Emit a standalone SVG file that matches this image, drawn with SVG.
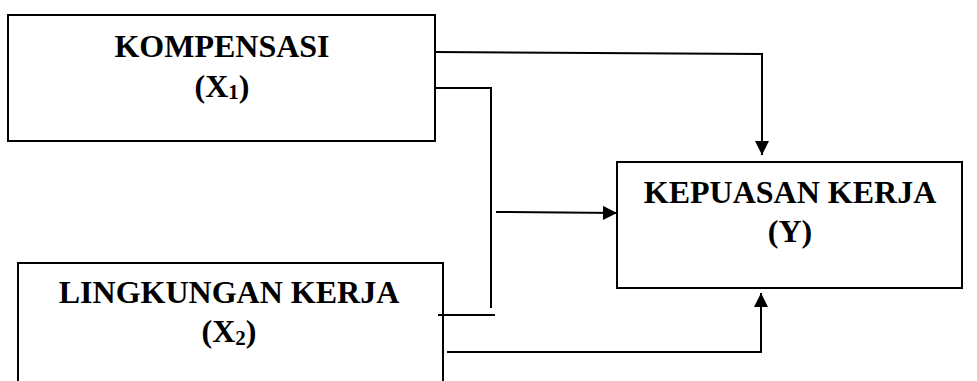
<svg xmlns="http://www.w3.org/2000/svg" width="977" height="381" viewBox="0 0 977 381">
<style>
.box{fill:#fff;stroke:#000;stroke-width:2}
.ln{fill:none;stroke:#000;stroke-width:2}
.t{font-family:"Liberation Serif","Times New Roman",serif;font-weight:bold;font-size:32px;fill:#000;text-anchor:middle}
</style>
<defs>
<marker id="ah" viewBox="0 0 10 10" refX="10" refY="5" markerWidth="15" markerHeight="14" markerUnits="userSpaceOnUse" orient="auto">
<path d="M0,0 L10,5 L0,10 Z" fill="#000"/>
</marker>
</defs>
<g id="connectors">
<polyline class="ln" points="435,52 762,54 762,155" marker-end="url(#ah)"/>
<polyline class="ln" points="435,88 491,88 491,308"/>
<line class="ln" x1="438" y1="315" x2="495" y2="315"/>
<line class="ln" x1="496" y1="212" x2="617" y2="213" marker-end="url(#ah)"/>
<polyline class="ln" points="447,352 761,352 761,293" marker-end="url(#ah)"/>
</g>
<g id="node-x1">
<rect class="box" x="8" y="15" width="427" height="126"/>
<text class="t" x="222" y="57">KOMPENSASI</text>
<text class="t" x="222" y="97">(X<tspan font-size="21" dy="2">1</tspan><tspan dy="-2">)</tspan></text>
</g>
<g id="node-x2">
<path class="ln" d="M18,382 V263 H443 V382"/>
<text class="t" x="229" y="303">LINGKUNGAN KERJA</text>
<text class="t" x="229" y="342">(X<tspan font-size="21" dy="3">2</tspan><tspan dy="-3">)</tspan></text>
</g>
<g id="node-y">
<rect class="box" x="617" y="162" width="345" height="126"/>
<text class="t" x="790" y="203">KEPUASAN KERJA</text>
<text class="t" x="790" y="242">(Y)</text>
</g>
</svg>
